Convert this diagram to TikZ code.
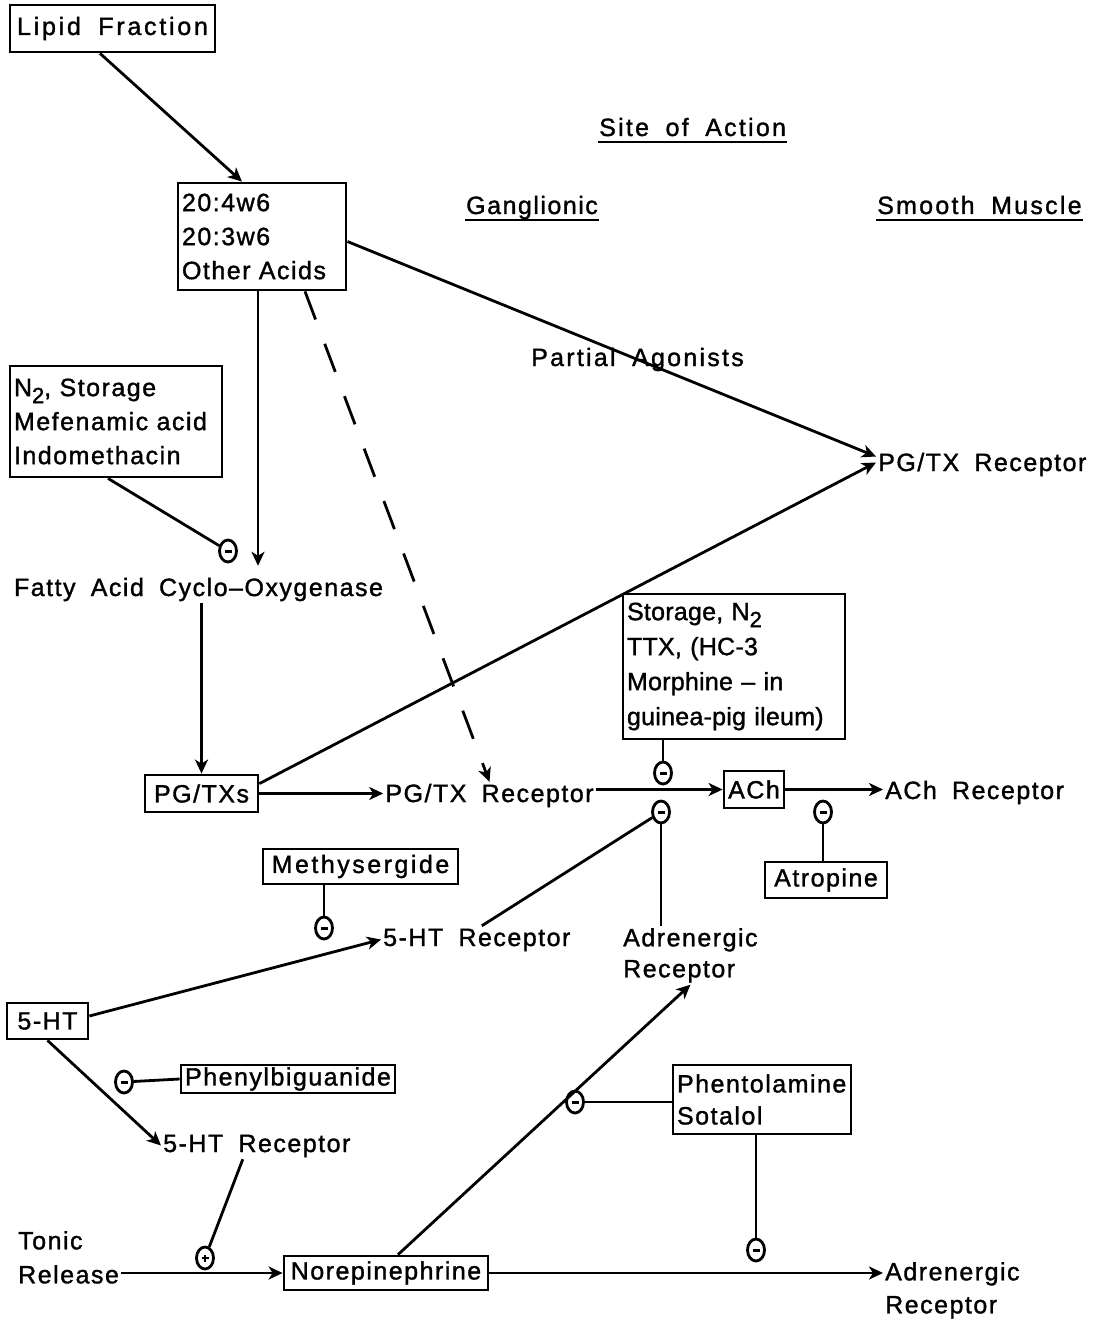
\documentclass[tikz,border=0pt]{standalone}
\usepackage{fontspec}
\setmainfont{Liberation Sans}[LetterSpace=6,WordSpace=1.8,FakeBold=1.3]
\usetikzlibrary{arrows.meta,shapes.geometric,calc}
\newcommand{\subtwo}{\raisebox{-7pt}{\fontsize{22}{22}\selectfont 2}}
\tikzset{
  box/.style={draw,line width=2.8pt,inner sep=4pt,align=left,font=\fontsize{25}{34}\selectfont},
  lbl/.style={inner sep=2pt,font=\fontsize{25}{33}\selectfont,text height=18pt,text depth=5pt},
  mlbl/.style={inner sep=2pt,align=left},
  inh/.style={draw,ellipse,line width=2.8pt,minimum width=17pt,minimum height=22pt,inner sep=0pt,
    path picture={\fill ([xshift=-3.5pt,yshift=-1.5pt]path picture bounding box.center) rectangle ([xshift=3.5pt,yshift=1.5pt]path picture bounding box.center);}},
  act/.style={draw,ellipse,line width=2.8pt,minimum width=17pt,minimum height=22pt,inner sep=0pt,
    path picture={\fill ([xshift=-3.5pt,yshift=-1.2pt]path picture bounding box.center) rectangle ([xshift=3.5pt,yshift=1.2pt]path picture bounding box.center);
                  \fill ([xshift=-1.2pt,yshift=-3.5pt]path picture bounding box.center) rectangle ([xshift=1.2pt,yshift=3.5pt]path picture bounding box.center);}},
  con/.style={line width=2.8pt},
  arr/.style={line width=2.8pt,-{Stealth[length=14pt,width=13pt,inset=4pt]}},
  ul/.style={line width=2.8pt},
}
\begin{document}
\begin{tikzpicture}[x=1pt,y=-1pt]
\useasboundingbox[fill=white] (0,0) rectangle (1100,1321);

% boxes
\node[box,minimum width=205pt,minimum height=47pt,font=\fontsize{25}{34}\selectfont\addfontfeatures{LetterSpace=11}] (lipid) at (112.5,28.5) {Lipid Fraction};
\node[box,text width=160pt,minimum height=107pt] (acids) at (262,236.5) {20:4w6\\20:3w6\\Other Acids};
\node[box,text width=204pt,minimum height=111pt] (inhib) at (116,421.5) {N\subtwo, Storage\\Mefenamic acid\\Indomethacin};
\node[box,text width=214pt,minimum height=145pt,font=\fontsize{25}{35}\selectfont\addfontfeatures{LetterSpace=1}] (storage) at (734,666.5) {Storage, N\subtwo\\TTX, (HC-3\\Morphine -- in\\guinea-pig ileum)};
\node[box,minimum width=113pt,minimum height=37pt] (pgtxs) at (201.5,793.5) {PG/TXs};
\node[box,minimum width=60pt,minimum height=37pt,inner xsep=2pt] (ach) at (754,789.5) {ACh};
\node[box,minimum width=122pt,minimum height=36pt] (atropine) at (826,880) {Atropine};
\node[box,minimum width=195pt,minimum height=35pt,font=\fontsize{25}{34}\selectfont\addfontfeatures{LetterSpace=10}] (methy) at (360.5,866.5) {Methysergide};
\node[box,minimum width=81pt,minimum height=36pt] (ht5) at (47.5,1021) {5-HT};
\node[box,minimum width=210pt,minimum height=28pt,inner ysep=1pt] (phenyl) at (288,1079) {Phenylbiguanide};
\node[box,text width=170pt,minimum height=69pt,font=\fontsize{25}{32}\selectfont] (phento) at (762,1099.5) {Phentolamine\\Sotalol};
\node[box,minimum width=204pt,minimum height=34pt] (norepi) at (386,1273) {Norepinephrine};

% plain labels
\node[lbl,anchor=base] (cyclo) at (198.5,596) {Fatty Acid Cyclo--Oxygenase};
\node[lbl,anchor=base] (recg) at (489.5,802) {PG/TX Receptor};
\node[lbl,anchor=base west] (recs) at (876,471) {PG/TX Receptor};
\node[lbl,anchor=base west] (achr) at (883,799) {ACh Receptor};
\node[lbl,anchor=base west] (ht5ra) at (381,946) {5-HT Receptor};
\node[lbl,anchor=base west] (ht5rb) at (161,1152) {5-HT Receptor};
\node[lbl,anchor=base west,font=\fontsize{25}{33}\selectfont\addfontfeatures{LetterSpace=9}] (partial) at (529,366) {Partial Agonists};
\node[lbl,anchor=base west,inner sep=1pt,font=\fontsize{25}{33}\selectfont\addfontfeatures{LetterSpace=9}] (site) at (598,136) {Site of Action};
\node[lbl,anchor=base west,inner sep=1pt] (gang) at (465,214) {Ganglionic};
\node[lbl,anchor=base west,inner sep=1pt,font=\fontsize{25}{33}\selectfont\addfontfeatures{LetterSpace=9}] (smooth) at (876,214) {Smooth Muscle};
\node[mlbl,anchor=north west,font=\fontsize{25}{31}\selectfont] (adr1) at (621,926) {Adrenergic\\Receptor};
\node[mlbl,anchor=north west,font=\fontsize{25}{34}\selectfont] (tonic) at (16,1229) {Tonic\\Release};
\node[mlbl,anchor=north west,font=\fontsize{25}{33}\selectfont] (adr2) at (883,1260) {Adrenergic\\Receptor};

% underlines
\draw[ul] ([yshift=-6pt]site.base west) -- ([yshift=-6pt]site.base east);
\draw[ul] ([yshift=-6pt]gang.base west) -- ([yshift=-6pt]gang.base east);
\draw[ul] ([yshift=-6pt]smooth.base west) -- ([yshift=-6pt]smooth.base east);

% inhibition / activation marks
\node[inh] (c1) at (228,551) {};
\node[inh] (c2) at (663,773) {};
\node[inh] (c3) at (661,812) {};
\node[inh] (c4) at (823,812) {};
\node[inh] (c5) at (324,928) {};
\node[inh] (c6) at (124,1082) {};
\node[inh] (c7) at (575,1102) {};
\node[inh] (c8) at (756,1250) {};
\node[act] (cp) at (205,1258) {};

% arrows
\draw[arr] ($(lipid.south)+(-12.5,0)$) -- ($(acids.north)+(-20,0)$);
\draw[arr] ($(acids.south)+(-4,0)$) -- ($(acids.south |- cyclo.north)+(-4,-10)$);
\draw[arr,dash pattern=on 30pt off 26pt] ($(acids.south)+(43,0)$) -- (recg.north);
\draw[arr] ($(acids.east)+(0,5)$) -- ($(recs.west)+(0,-8)$);
\draw[arr] ($(pgtxs.north east)+(0,10)$) -- ($(recs.west)+(0,-2)$);
\draw[arr] (pgtxs.north |- cyclo.south) -- (pgtxs.north);
\draw[arr] (pgtxs.east) -- (pgtxs.east -| recg.west);
\draw[arr] (recg.east |- ach.west) -- (ach.west);
\draw[arr] (ach.east) -- (ach.east -| achr.west);
\draw[arr] ($(ht5.east)+(0,-5)$) -- (ht5ra.west);
\draw[arr] (ht5.south) -- (ht5rb.west);
\draw[arr] (tonic.east |- norepi.west) -- (norepi.west);
\draw[arr] ($(norepi.north)+(12,0)$) -- (adr1.south);
\draw[arr] (norepi.east) -- (norepi.east -| adr2.west);

% inhibition connectors
\draw[con] ($(inhib.south)+(-8,0)$) -- (c1);
\draw[con] (c2 |- storage.south) -- (c2);
\draw[con] ($(ht5ra.north)+(5,0)$) -- (c3);
\draw[con] (c3) -- (c3 |- adr1.north);
\draw[con] (c4) -- (c4 |- atropine.north);
\draw[con] (c5) -- (c5 |- methy.south);
\draw[con] (c6) -- (phenyl.west);
\draw[con] (c7) -- (c7 -| phento.west);
\draw[con] (c8) -- (c8 |- phento.south);
\draw[con] ($(ht5rb.south)+(-14,0)$) -- (cp);
\end{tikzpicture}
\end{document}
